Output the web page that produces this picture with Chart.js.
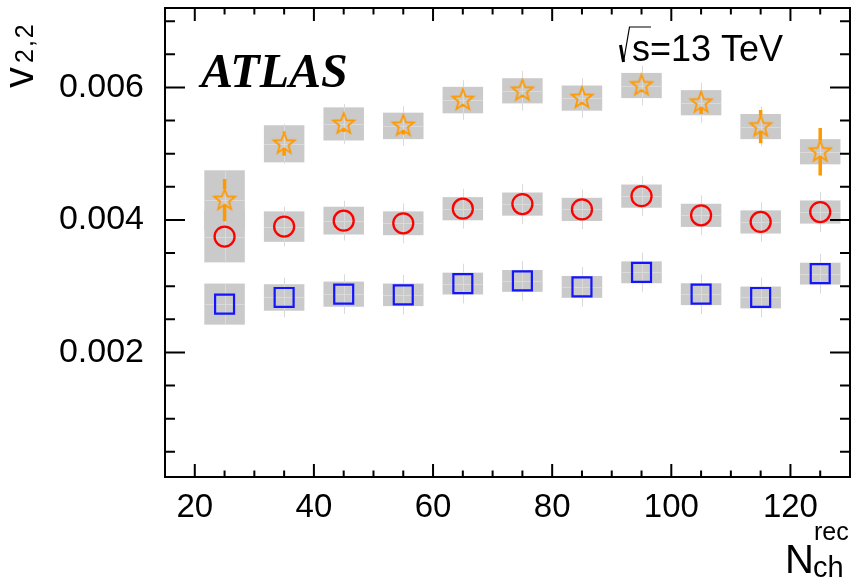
<!DOCTYPE html>
<html>
<head>
<meta charset="utf-8">
<script src="https://cdn.jsdelivr.net/npm/chart.js@4.4.1/dist/chart.umd.min.js"></script>
<style>
  html, body { margin: 0; padding: 0; background: #fff; }
  #wrap { width: 854px; height: 580px; }
</style>
</head>
<body>
<div id="wrap"><canvas id="v22Chart" width="854" height="580"></canvas></div>
<script>
// multiplicity bins (bin centres)
const nch = [25, 35, 45, 55, 65, 75, 85, 95, 105, 115, 125];

// orange stars
const starVals = [0.00430, 0.00515, 0.00545, 0.00542, 0.00581, 0.00595, 0.00584, 0.00603, 0.00577, 0.00541, 0.00503];
const starStat = [0.00032, 0.00018, 0.00012, 0.00013, 0.00010, 0.00010, 0.00010, 0.00010, 0.00017, 0.00025, 0.00036];
const starSyst = [0.00045, 0.00028, 0.00025, 0.00020, 0.00020, 0.00019, 0.00019, 0.00019, 0.00019, 0.00019, 0.00019];
const starTot  = [0.00045, 0.00030, 0.00030, 0.00030, 0.00030, 0.00030, 0.00030, 0.00030, 0.00030, 0.00030, 0.00036];

// red circles
const circleVals = [0.00375, 0.00390, 0.00399, 0.00395, 0.00417, 0.00424, 0.00416, 0.00436, 0.00407, 0.00397, 0.00412];
const circleStat = [0.00008, 0.00008, 0.00008, 0.00008, 0.00008, 0.00008, 0.00008, 0.00008, 0.00008, 0.00008, 0.00008];
const circleSyst = [0.00039, 0.00023, 0.00021, 0.00018, 0.000175, 0.000175, 0.000175, 0.000175, 0.000175, 0.000175, 0.000175];
const circleTot  = [0.00039, 0.00030, 0.00030, 0.00030, 0.00030, 0.00030, 0.00030, 0.00030, 0.00030, 0.00030, 0.00030];

// blue squares
const squareVals = [0.00273, 0.00283, 0.00288, 0.00287, 0.00304, 0.00308, 0.00299, 0.00321, 0.00288, 0.00283, 0.00319];
const squareStat = [0.00008, 0.00008, 0.00008, 0.00008, 0.00008, 0.00008, 0.00008, 0.00008, 0.00008, 0.00008, 0.00014];
const squareSyst = [0.00031, 0.00020, 0.00019, 0.00017, 0.000165, 0.000165, 0.000165, 0.000165, 0.000165, 0.000165, 0.000165];
const squareTot  = [0.00031, 0.00030, 0.00030, 0.00030, 0.00030, 0.00030, 0.00030, 0.00030, 0.00030, 0.00030, 0.00030];

// axis ticks
const xTickValues = [20, 40, 60, 80, 100, 120];
const yTickValues = [0.002, 0.004, 0.006];
const xRange = [15, 130];
const yRange = [0.00012, 0.0072];

const FONT = "'Liberation Sans', Arial, Helvetica, sans-serif";
const ORANGE = '#ff9900';
const RED = '#ff0000';
const BLUE = '#1414ff';

// open five-pointed star used as point style
function makeStar(color, R, lw) {
  const c = document.createElement('canvas');
  const s = Math.ceil(2 * R + 2 * lw + 2);
  c.width = c.height = s;
  const g = c.getContext('2d');
  g.beginPath();
  for (let k = 0; k < 10; k++) {
    const r = k % 2 ? R * 0.42 : R;
    const a = -Math.PI / 2 + k * Math.PI / 5;
    g.lineTo(s / 2 + r * Math.cos(a), s / 2 + r * Math.sin(a));
  }
  g.closePath();
  g.strokeStyle = color;
  g.lineWidth = lw;
  g.lineJoin = 'miter';
  g.stroke();
  return c;
}
const starImg = makeStar(ORANGE, 11, 1.8);

// uncertainty drawing per series; gapUp/gapDown = marker extent in px
const series = [
  { vals: squareVals, stat: squareStat, syst: squareSyst, tot: squareTot, color: BLUE, gapUp: 9.5, gapDown: 9.5 },
  { vals: circleVals, stat: circleStat, syst: circleSyst, tot: circleTot, color: RED, gapUp: 10, gapDown: 10 },
  { vals: starVals, stat: starStat, syst: starSyst, tot: starTot, color: ORANGE, gapUp: 11, gapDown: 4.5 }
];
const boxHalfWidth = 3.4;

// keep the plot frame exactly where the axes put it
const fixPadding = axis => {
  axis.paddingTop = 0;
  axis.paddingBottom = 0;
  axis.paddingLeft = 0;
  axis.paddingRight = 0;
};

const uncertaintyPlugin = {
  id: 'uncertainties',
  beforeDatasetsDraw(chart) {
    const { ctx, scales: { x, y } } = chart;
    ctx.save();
    // systematic boxes
    ctx.fillStyle = '#cacaca';
    series.forEach(s => {
      s.vals.forEach((v, i) => {
        const xl = x.getPixelForValue(nch[i] - boxHalfWidth);
        const xr = x.getPixelForValue(nch[i] + boxHalfWidth);
        const yt = y.getPixelForValue(v + s.syst[i]);
        const yb = y.getPixelForValue(v - s.syst[i]);
        ctx.fillRect(xl, yt, xr - xl, yb - yt);
      });
    });
    // thin total-uncertainty lines and box centre lines
    ctx.strokeStyle = '#dadada';
    ctx.lineWidth = 1;
    series.forEach(s => {
      s.vals.forEach((v, i) => {
        const px = Math.round(x.getPixelForValue(nch[i])) + 0.5;
        const py = Math.round(y.getPixelForValue(v)) + 0.5;
        ctx.beginPath();
        ctx.moveTo(px, y.getPixelForValue(v + s.tot[i]));
        ctx.lineTo(px, y.getPixelForValue(v - s.tot[i]));
        ctx.moveTo(x.getPixelForValue(nch[i] - boxHalfWidth), py);
        ctx.lineTo(x.getPixelForValue(nch[i] + boxHalfWidth), py);
        ctx.stroke();
      });
    });
    // statistical bars, kept outside the marker
    series.forEach(s => {
      ctx.strokeStyle = s.color;
      ctx.lineWidth = s.color === ORANGE ? 3.5 : 2;
      s.vals.forEach((v, i) => {
        const px = x.getPixelForValue(nch[i]);
        const py = y.getPixelForValue(v);
        const yt = y.getPixelForValue(v + s.stat[i]);
        const yb = y.getPixelForValue(v - s.stat[i]);
        ctx.beginPath();
        if (py - yt > s.gapUp) { ctx.moveTo(px, yt); ctx.lineTo(px, py - s.gapUp); }
        if (yb - py > s.gapDown) { ctx.moveTo(px, py + s.gapDown); ctx.lineTo(px, yb); }
        ctx.stroke();
      });
    });
    ctx.restore();
  },
  afterDraw(chart) {
    const { ctx, chartArea: a, scales: { x, y } } = chart;
    ctx.save();
    ctx.strokeStyle = '#000';
    ctx.lineWidth = 2;
    ctx.strokeRect(a.left, a.top, a.right - a.left, a.bottom - a.top);

    const seg = (x1, y1, x2, y2) => { ctx.moveTo(x1, y1); ctx.lineTo(x2, y2); };
    ctx.beginPath();
    for (let v = xRange[0]; v <= xRange[1]; v += 5) {
      const px = x.getPixelForValue(v);
      const len = v % 20 === 0 ? 13 : 6.5;
      seg(px, a.bottom, px, a.bottom - len);
      seg(px, a.top, px, a.top + len);
    }
    for (let k = 1; k <= 14; k++) {
      const v = k * 0.0005;
      const py = y.getPixelForValue(v);
      const len = k % 4 === 0 ? 20 : 10;
      seg(a.left, py, a.left + len, py);
      seg(a.right, py, a.right - len, py);
    }
    ctx.stroke();

    ctx.fillStyle = '#000';
    ctx.textBaseline = 'alphabetic';
    ctx.textAlign = 'left';

    // experiment label
    ctx.font = "italic bold 48px 'Liberation Serif', 'Times New Roman', serif";
    ctx.fillText('ATLAS', 201, 87);

    // collision energy, radical sign drawn by hand
    ctx.lineCap = 'butt';
    ctx.lineWidth = 3;
    ctx.beginPath();
    seg(620.5, 45, 623.5, 62);
    ctx.stroke();
    ctx.lineWidth = 1.2;
    ctx.beginPath();
    ctx.moveTo(623.5, 62);
    ctx.lineTo(629.5, 27);
    ctx.lineTo(651, 27);
    ctx.stroke();
    ctx.font = '36px ' + FONT;
    ctx.fillText('s=13 TeV', 632, 61);

    // x-axis title
    ctx.font = '40px ' + FONT;
    ctx.fillText('N', 785, 573);
    ctx.font = '25px ' + FONT;
    ctx.fillText('rec', 814, 540);
    ctx.font = '29px ' + FONT;
    ctx.fillText('ch', 813, 577);

    // y-axis title
    ctx.translate(33, 88);
    ctx.rotate(-Math.PI / 2);
    ctx.font = '42px ' + FONT;
    ctx.fillText('v', 0, 0);
    ctx.font = '25px ' + FONT;
    ctx.letterSpacing = '2px';
    ctx.fillText('2,2', 25, 0);
    ctx.restore();
  }
};

Chart.defaults.font.family = FONT;
Chart.defaults.color = '#000';

new Chart(document.getElementById('v22Chart'), {
  type: 'scatter',
  data: {
    datasets: [
      {
        label: 'squares',
        data: nch.map((n, i) => ({ x: n, y: squareVals[i] })),
        pointStyle: 'rect',
        radius: 13.4,
        borderColor: BLUE,
        borderWidth: 2.2,
        backgroundColor: 'rgba(0,0,0,0)'
      },
      {
        label: 'circles',
        data: nch.map((n, i) => ({ x: n, y: circleVals[i] })),
        pointStyle: 'circle',
        radius: 10,
        borderColor: RED,
        borderWidth: 2.3,
        backgroundColor: 'rgba(0,0,0,0)'
      },
      {
        label: 'stars',
        data: nch.map((n, i) => ({ x: n, y: starVals[i] })),
        pointStyle: starImg,
        radius: 11,
        borderColor: ORANGE,
        backgroundColor: 'rgba(0,0,0,0)'
      }
    ]
  },
  options: {
    responsive: false,
    animation: false,
    layout: { autoPadding: false, padding: { top: 8, right: 4, left: 0, bottom: 0 } },
    plugins: {
      legend: { display: false },
      tooltip: { enabled: false }
    },
    scales: {
      x: {
        type: 'linear',
        min: xRange[0],
        max: xRange[1],
        grid: { display: false, drawTicks: false },
        border: { display: false },
        afterBuildTicks: axis => { axis.ticks = xTickValues.map(v => ({ value: v })); },
        afterFit: axis => { axis.height = 103; fixPadding(axis); },
        ticks: {
          font: { size: 33 },
          color: '#000',
          padding: 11,
          maxRotation: 0,
          callback: v => String(v)
        }
      },
      y: {
        type: 'linear',
        min: yRange[0],
        max: yRange[1],
        grid: { display: false, drawTicks: false },
        border: { display: false },
        afterBuildTicks: axis => { axis.ticks = yTickValues.map(v => ({ value: v })); },
        afterFit: axis => { axis.width = 165; fixPadding(axis); },
        ticks: {
          font: { size: 34 },
          color: '#000',
          padding: 21,
          callback: v => v.toFixed(3)
        }
      }
    }
  },
  plugins: [uncertaintyPlugin]
});
</script>
</body>
</html>
